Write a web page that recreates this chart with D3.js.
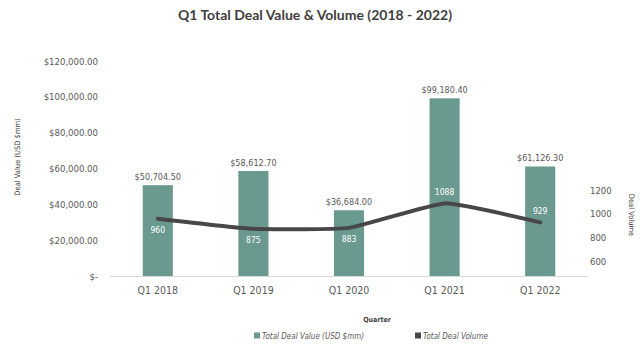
<!DOCTYPE html>
<html>
<head>
<meta charset="utf-8">
<script src="https://cdn.jsdelivr.net/npm/d3@7/dist/d3.min.js"></script>
<style>
  body { margin: 0; background: #fff; }
  svg { display: block; }
  .cond { font-stretch: condensed; }
</style>
</head>
<body>
<svg id="chart" width="640" height="347"></svg>
<script>
// data
var quarters = ['Q1 2018', 'Q1 2019', 'Q1 2020', 'Q1 2021', 'Q1 2022']
var dealValue = [50704.50, 58612.70, 36684.00, 99180.40, 61126.30]
var dealVolume = [960, 875, 883, 1088, 929]
var valueTicks = [0, 20000, 40000, 60000, 80000, 100000, 120000]
var volumeTicks = [600, 800, 1000, 1200]
// where each volume label sits relative to the line
var volLabelSide = ['below', 'below', 'below', 'above', 'above']

var BAR_COLOR = '#6a9a8f',
	LINE_COLOR = '#474747',
	TEXT_COLOR = '#595959',
	AXIS_COLOR = '#d9d9d9',
	FONT = '"DejaVu Sans", sans-serif'

var PLOT_LEFT = 110, PLOT_RIGHT = 588, PLOT_TOP = 61, PLOT_BOTTOM = 276

var drawChart = function(){

	var svg = d3.select('#chart')

	var x = d3.scaleBand()
		.domain(quarters)
		.range([PLOT_LEFT, PLOT_RIGHT])
		.paddingInner(0.685)
		.paddingOuter(0.3425)

	var yVal = d3.scaleLinear().domain([0, 120000]).range([PLOT_BOTTOM, PLOT_TOP])
	var yVol = d3.scaleLinear().domain([480, 2280]).range([PLOT_BOTTOM, PLOT_TOP])

	var fmtMoney = function(v){ return v === 0 ? '$-' : '$' + d3.format(',.2f')(v) }

	// title
	svg.append('text')
		.attr('x', 315).attr('y', 20)
		.attr('text-anchor', 'middle')
		.attr('font-family', 'Lato, "Open Sans", sans-serif')
		.attr('font-weight', 'bold')
		.attr('font-size', 14)
		.attr('fill', '#404040')
		.text('Q1 Total Deal Value & Volume (2018 - 2022)')

	// left axis
	var gLeft = svg.append('g')
		.attr('transform', 'translate(' + (PLOT_LEFT - 12) + ',0)')
		.call(d3.axisLeft(yVal).tickValues(valueTicks).tickSize(0).tickPadding(0).tickFormat(fmtMoney))
	gLeft.select('.domain').remove()
	gLeft.selectAll('text')
		.attr('class', 'cond')
		.attr('font-family', FONT)
		.attr('font-size', 9.5)
		.attr('fill', TEXT_COLOR)

	// right axis
	var gRight = svg.append('g')
		.attr('transform', 'translate(' + (PLOT_RIGHT + 2) + ',0)')
		.call(d3.axisRight(yVol).tickValues(volumeTicks).tickSize(0).tickPadding(0).tickFormat(d3.format('d')))
	gRight.select('.domain').remove()
	gRight.selectAll('text')
		.attr('class', 'cond')
		.attr('font-family', FONT)
		.attr('font-size', 9.5)
		.attr('fill', TEXT_COLOR)

	// bars
	svg.selectAll('rect.bar')
		.data(quarters)
		.enter().append('rect')
		.attr('class', 'bar')
		.attr('x', function(d){ return x(d) })
		.attr('width', x.bandwidth())
		.attr('y', function(d, i){ return yVal(dealValue[i]) })
		.attr('height', function(d, i){ return PLOT_BOTTOM - yVal(dealValue[i]) })
		.attr('fill', BAR_COLOR)

	// baseline
	svg.append('line')
		.attr('x1', PLOT_LEFT).attr('x2', PLOT_RIGHT)
		.attr('y1', PLOT_BOTTOM + 0.5).attr('y2', PLOT_BOTTOM + 0.5)
		.style('stroke', AXIS_COLOR)
		.style('stroke-width', 1)

	// x labels
	var gX = svg.append('g')
		.attr('transform', 'translate(0,' + PLOT_BOTTOM + ')')
		.call(d3.axisBottom(x).tickSize(0).tickPadding(11))
	gX.select('.domain').remove()
	gX.selectAll('text')
		.attr('class', 'cond')
		.attr('font-family', FONT)
		.attr('font-size', 10.5)
		.attr('fill', TEXT_COLOR)

	// value labels
	svg.selectAll('text.valLabel')
		.data(quarters)
		.enter().append('text')
		.attr('class', 'valLabel cond')
		.attr('x', function(d){ return x(d) + x.bandwidth() / 2 })
		.attr('y', function(d, i){ return yVal(dealValue[i]) - 5 })
		.attr('text-anchor', 'middle')
		.attr('font-family', FONT)
		.attr('font-size', 9)
		.attr('fill', TEXT_COLOR)
		.text(function(d, i){ return fmtMoney(dealValue[i]) })

	// volume line
	var line = d3.line()
		.x(function(d, i){ return x(quarters[i]) + x.bandwidth() / 2 })
		.y(function(d){ return yVol(d) })
		.curve(d3.curveCardinal.tension(0.6))

	svg.append('path')
		.datum(dealVolume)
		.attr('d', line)
		.attr('fill', 'none')
		.style('stroke', LINE_COLOR)
		.style('stroke-width', 4)
		.style('stroke-linecap', 'round')

	svg.selectAll('text.volLabel')
		.data(dealVolume)
		.enter().append('text')
		.attr('class', 'volLabel cond')
		.attr('x', function(d, i){ return x(quarters[i]) + x.bandwidth() / 2 })
		.attr('y', function(d, i){ return volLabelSide[i] == 'below' ? yVol(d) + 14 : yVol(d) - 8 })
		.attr('text-anchor', 'middle')
		.attr('font-family', FONT)
		.attr('font-size', 8.5)
		.attr('fill', '#ffffff')
		.text(function(d){ return d })

	// axis titles
	svg.append('text')
		.attr('class', 'cond')
		.attr('transform', 'translate(20,157) rotate(-90)')
		.attr('text-anchor', 'middle')
		.attr('font-family', FONT)
		.attr('font-size', 7.5)
		.attr('fill', '#404040')
		.text('Deal Value (USD $mm)')

	svg.append('text')
		.attr('class', 'cond')
		.attr('transform', 'translate(629,215) rotate(90)')
		.attr('text-anchor', 'middle')
		.attr('font-family', FONT)
		.attr('font-size', 7.5)
		.attr('fill', '#404040')
		.text('Deal Volume')

	svg.append('text')
		.attr('class', 'cond')
		.attr('x', 377).attr('y', 322)
		.attr('text-anchor', 'middle')
		.attr('font-family', FONT)
		.attr('font-weight', 'bold')
		.attr('font-size', 7)
		.attr('fill', '#404040')
		.text('Quarter')

	// legend
	var legend = [
		{name: 'Total Deal Value (USD $mm)', color: BAR_COLOR, x: 254},
		{name: 'Total Deal Volume', color: LINE_COLOR, x: 415}
	]
	var lg = svg.selectAll('g.legend')
		.data(legend)
		.enter().append('g')
		.attr('class', 'legend')
		.attr('transform', function(d){ return 'translate(' + d.x + ',337)' })
	lg.append('rect')
		.attr('x', 0).attr('y', -4.5)
		.attr('width', 6).attr('height', 6)
		.attr('fill', function(d){ return d.color })
	lg.append('text')
		.attr('class', 'cond')
		.attr('x', 8).attr('y', 1.5)
		.attr('font-family', FONT)
		.attr('font-style', 'italic')
		.attr('font-size', 8)
		.attr('fill', TEXT_COLOR)
		.text(function(d){ return d.name })
}

drawChart()
</script>
</body>
</html>
